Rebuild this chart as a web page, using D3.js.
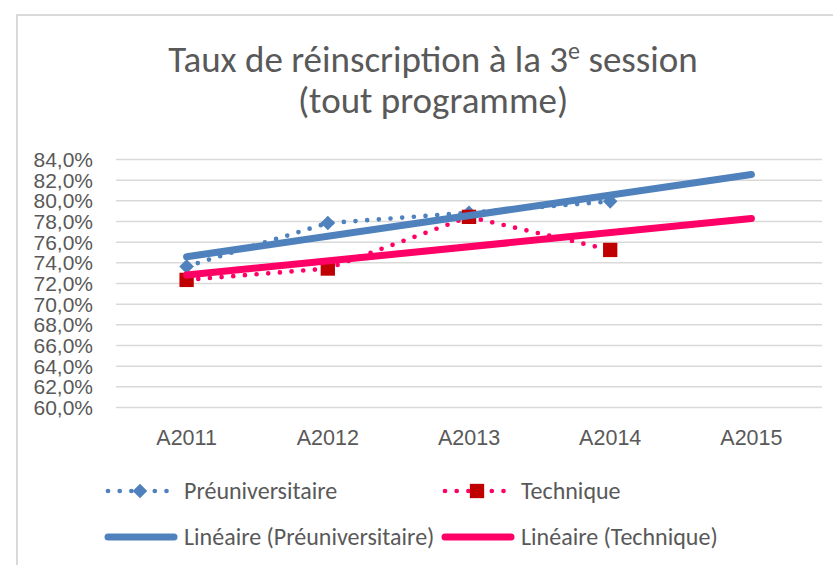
<!DOCTYPE html>
<html>
<head>
<meta charset="utf-8">
<script src="https://cdn.jsdelivr.net/npm/d3@7"></script>
<style>
    body { margin: 0; background: #ffffff; }
    svg { display: block; font-family: Carlito, Calibri, Lato, sans-serif; }
</style>
</head>
<body>
<div class="LineChart"></div>
<script>
// values (percent)
const categories = ["A2011", "A2012", "A2013", "A2014", "A2015"];
const preuniversitaire = [73.6, 77.8, 78.8, 79.9];
const technique = [72.3, 73.4, 78.4, 75.2];
const yTicks = [60, 62, 64, 66, 68, 70, 72, 74, 76, 78, 80, 82, 84];
const seriesNames = ["Préuniversitaire", "Technique"];
const trendNames = ["Linéaire (Préuniversitaire)", "Linéaire (Technique)"];

class LineChart
{
    constructor(cats, seriesA, seriesB)
    {
        this.cats = cats;
        this.seriesA = seriesA;
        this.seriesB = seriesB;
    }

    // least squares on the index 1..n, like the excel linear trendline
    trend(values)
    {
        let xs = values.map((d, i) => i + 1);
        let mx = d3.mean(xs), my = d3.mean(values);
        let num = d3.sum(values, (d, i) => (xs[i] - mx) * (d - my));
        let den = d3.sum(xs, x => (x - mx) * (x - mx));
        let slope = num / den;
        let b = my - slope * mx;
        return this.cats.map((c, i) => ({cat: c, v: b + slope * (i + 1)}));
    }

    draw()
    {
        let that = this;
        let width = 833, height = 565;
        let blue = "#4F81BD", pink = "#FF0066", red = "#C00000", grey = "#595959";

        let svg = d3.select(".LineChart")
                    .append("svg")
                    .attr("width", width)
                    .attr("height", height);

        // chart border (runs off the picture on the right and bottom)
        svg.append("rect")
           .attr("x", 17).attr("y", 15)
           .attr("width", 860).attr("height", 600)
           .attr("fill", "none")
           .attr("stroke", "#D9D9D9")
           .attr("stroke-width", 2);

        let title = svg.append("text")
           .attr("x", 433).attr("y", 72)
           .attr("text-anchor", "middle")
           .style("font-size", "37px")
           .style("fill", grey);
        title.append("tspan").text("Taux de réinscription à la 3");
        title.append("tspan")
             .attr("dy", -13)
             .style("font-size", "24px")
             .text("e");
        title.append("tspan")
             .attr("dy", 13)
             .text(" session");

        svg.append("text")
           .attr("x", 433).attr("y", 113)
           .attr("text-anchor", "middle")
           .style("font-size", "37px")
           .style("fill", grey)
           .text("(tout programme)");

        let xScale = d3.scaleBand()
                       .domain(this.cats)
                       .range([116, 822]);

        let yScale = d3.scaleLinear()
                       .domain([60, 84])
                       .range([407, 159]);

        let yAxis = d3.axisLeft(yScale)
                      .tickValues(yTicks)
                      .tickSize(-706)
                      .tickPadding(23)
                      .tickFormat(d => d3.format(".1f")(d).replace(".", ",") + "%");

        let gy = svg.append("g")
                    .attr("transform", "translate(116,0)")
                    .call(yAxis);
        gy.select(".domain").remove();
        gy.selectAll("line")
          .attr("stroke", "#D9D9D9")
          .attr("stroke-width", 1.5);
        gy.selectAll("text")
          .style("font-size", "21px")
          .style("fill", grey)
          .attr("dy", "0.36em");

        let xAxis = d3.axisBottom(xScale)
                      .tickSize(0)
                      .tickPadding(0);

        let gx = svg.append("g")
                    .attr("transform", "translate(0,445)")
                    .call(xAxis);
        gx.select(".domain").remove();
        gx.selectAll("text")
          .attr("dy", 0)
          .style("font-size", "21.5px")
          .style("fill", grey);

        let cx = d => xScale(d.cat) + xScale.bandwidth() / 2;
        let line = d3.line().x(cx).y(d => yScale(d.v));

        let dataA = this.seriesA.map((v, i) => ({cat: that.cats[i], v: v}));
        let dataB = this.seriesB.map((v, i) => ({cat: that.cats[i], v: v}));

        let dotted = {"stroke-width": 4.7, "stroke-dasharray": "0 11.7", "stroke-linecap": "round"};

        let addDotted = function(data, color)
        {
            let p = svg.append("path")
                       .datum(data)
                       .attr("d", line)
                       .attr("fill", "none")
                       .attr("stroke", color);
            for (let k in dotted) p.attr(k, dotted[k]);
        };

        let diamond = d3.symbol().type(d3.symbolDiamond2).size(135);
        let square = d3.symbol().type(d3.symbolSquare).size(205);

        addDotted(dataA, blue);
        svg.selectAll(".markA")
           .data(dataA)
           .enter()
           .append("path")
           .attr("class", "markA")
           .attr("d", diamond)
           .attr("transform", d => "translate(" + cx(d) + "," + yScale(d.v) + ")")
           .attr("fill", blue);

        addDotted(dataB, pink);
        svg.selectAll(".markB")
           .data(dataB)
           .enter()
           .append("path")
           .attr("class", "markB")
           .attr("d", square)
           .attr("transform", d => "translate(" + cx(d) + "," + yScale(d.v) + ")")
           .attr("fill", red);

        // trend lines sit on top of the series
        [[this.trend(this.seriesA), blue], [this.trend(this.seriesB), pink]].forEach(function(t)
        {
            let pts = [t[0][0], t[0][t[0].length - 1]];
            svg.append("path")
               .datum(pts)
               .attr("d", line)
               .attr("fill", "none")
               .attr("stroke", t[1])
               .attr("stroke-width", 7)
               .attr("stroke-linecap", "round");
        });

        // legend
        let legend = [
            {x: 108, y: 491, name: seriesNames[0], color: blue, mark: diamond, mcolor: blue, dots: true},
            {x: 445, y: 491, name: seriesNames[1], color: pink, mark: square, mcolor: red, dots: true},
            {x: 108, y: 537, name: trendNames[0], color: blue, dots: false},
            {x: 445, y: 537, name: trendNames[1], color: pink, dots: false}
        ];

        legend.forEach(function(l)
        {
            let g = svg.append("g");
            if (l.dots)
            {
                let p = g.append("line")
                         .attr("x1", l.x).attr("x2", l.x + 64)
                         .attr("y1", l.y).attr("y2", l.y)
                         .attr("stroke", l.color);
                for (let k in dotted) p.attr(k, dotted[k]);
                g.append("path")
                 .attr("d", l.mark)
                 .attr("transform", "translate(" + (l.x + 32) + "," + l.y + ")")
                 .attr("fill", l.mcolor);
            }
            else
            {
                g.append("line")
                 .attr("x1", l.x).attr("x2", l.x + 66)
                 .attr("y1", l.y).attr("y2", l.y)
                 .attr("stroke", l.color)
                 .attr("stroke-width", 7)
                 .attr("stroke-linecap", "round");
            }
            g.append("text")
             .attr("x", l.x + 76)
             .attr("y", l.y + 8)
             .style("font-size", "24px")
             .style("fill", grey)
             .text(l.name);
        });
    }
}

let chart = new LineChart(categories, preuniversitaire, technique);
chart.draw();
</script>
</body>
</html>
